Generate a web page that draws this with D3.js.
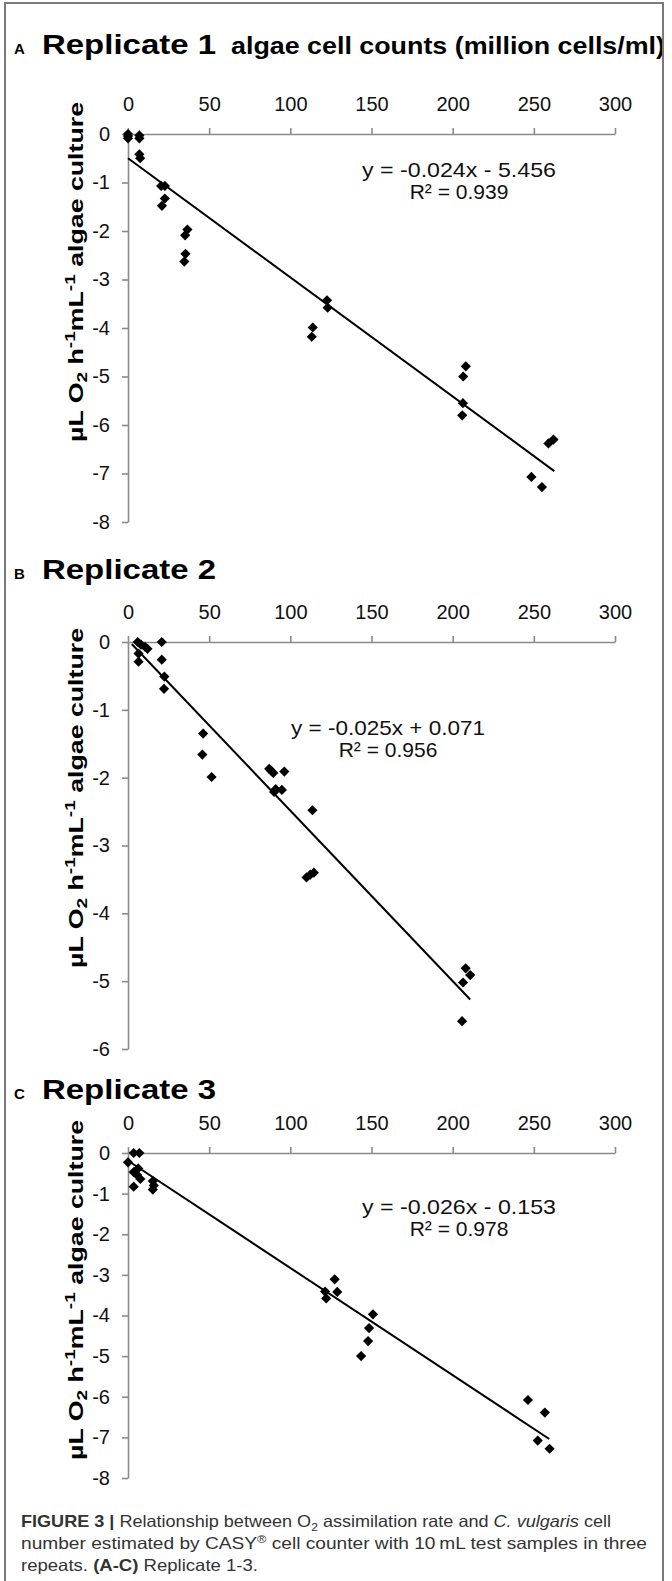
<!DOCTYPE html>
<html lang="en">
<head>
	<meta charset="UTF-8">
	<title>O2 assimilation vs cell counts</title>
	<script src="https://cdn.jsdelivr.net/npm/d3@7"></script>
	<style>
		body { margin: 0; background: #fff; }
		text { font-family: "Liberation Sans", Arial, sans-serif; }
	</style>
</head>
<body>
	<script>

		// values
		var xTicks = [0, 50, 100, 150, 200, 250, 300];
		var yTicksA = [0, -1, -2, -3, -4, -5, -6, -7, -8];
		var yTicksB = [0, -1, -2, -3, -4, -5, -6];
		var yTicksC = [0, -1, -2, -3, -4, -5, -6, -7, -8];

		var xA = [0, 0, 0, 7, 7, 7, 7.5, 20.4, 22.7, 22.7, 20.9, 36.6, 35.2, 35.4, 34.7, 122.6, 123, 113.8, 113.2, 208.1, 206.5, 206.3, 205.9, 248.5, 255, 259, 262.1];
		var yA = [0, -0.04, -0.09, -0.03, -0.09, -0.42, -0.5, -1.07, -1.07, -1.33, -1.48, -1.97, -2.09, -2.47, -2.63, -3.43, -3.58, -3.99, -4.18, -4.79, -5.0, -5.55, -5.8, -7.07, -7.28, -6.38, -6.3];

		var xB = [6, 8, 10.5, 12, 6.5, 6.5, 20.8, 20.8, 22.4, 22.2, 46.3, 45.8, 51.5, 87, 88.3, 89.5, 96.3, 91, 94.8, 90, 113.6, 110, 112.3, 114.5, 208, 210.8, 206.4, 205.8];
		var yB = [0, -0.04, -0.07, -0.1, -0.17, -0.29, 0, -0.26, -0.51, -0.69, -1.35, -1.66, -1.99, -1.87, -1.9, -1.93, -1.91, -2.17, -2.18, -2.21, -2.48, -3.47, -3.43, -3.4, -4.81, -4.91, -5.02, -5.59];

		var xC = [0, 3.5, 7, 3.5, 6.3, 5.6, 7.6, 3.5, 15.3, 15.9, 15.3, 121.4, 122.1, 127.3, 128.9, 150.9, 148.5, 147.9, 143.6, 246.4, 256.8, 252.4, 259.7];
		var yC = [-0.23, 0, 0, -0.47, -0.38, -0.54, -0.64, -0.83, -0.69, -0.8, -0.9, -3.41, -3.58, -3.11, -3.42, -3.97, -4.31, -4.63, -5.0, -6.08, -6.39, -7.08, -7.28];

		// trend lines as drawn (start and end)
		var lineAx = [0, 262.6], lineAy = [-0.5, -6.95];
		var lineBx = [2.3, 210.8], lineBy = [-0.03, -5.27];
		var lineCx = [0, 259.5], lineCy = [-0.19, -7.04];

		var letters = ["A", "B", "C"];
		var titles = ["Replicate 1", "Replicate 2", "Replicate 3"];
		var xAxisTitle = "algae cell counts (million cells/ml)";
		var equations = ["y = -0.024x - 5.456", "y = -0.025x + 0.071", "y = -0.026x - 0.153"];
		var r2Labels = ["R² = 0.939", "R² = 0.956", "R² = 0.978"];

		var W = 672, H = 1581;
		var svg = d3.select("body").append("svg").attr("width", W).attr("height", H);

		var axisColor = "#8a8a8a";

		var panels = [
			{ xs: xA, ys: yA, lx: lineAx, ly: lineAy, yTicks: yTicksA, top: 134, h: 388, titleY: 54, labelY: 272, eqX: 459, eqY: 177 },
			{ xs: xB, ys: yB, lx: lineBx, ly: lineBy, yTicks: yTicksB, top: 642, h: 407, titleY: 579, labelY: 798, eqX: 388, eqY: 735 },
			{ xs: xC, ys: yC, lx: lineCx, ly: lineCy, yTicks: yTicksC, top: 1153, h: 325, titleY: 1099, labelY: 1290, eqX: 459, eqY: 1214 }
		];

		var x = d3.scaleLinear().domain([0, 300]).range([128, 615]);

		panels.forEach(function (p, i) {
			var y = d3.scaleLinear().domain([d3.min(p.yTicks), 0]).range([p.top + p.h, p.top]);
			var g = svg.append("g");

			// title
			g.append("text").attr("x", 14).attr("y", p.titleY).attr("font-size", 15).attr("font-weight", "bold").text(letters[i]);
			g.append("text").attr("x", 42).attr("y", p.titleY).attr("font-size", 28).attr("font-weight", "bold")
				.attr("textLength", 174).attr("lengthAdjust", "spacingAndGlyphs").text(titles[i]);
			if (i == 0) {
				g.append("text").attr("x", 231).attr("y", p.titleY).attr("font-size", 24).attr("font-weight", "bold")
					.attr("textLength", 434).attr("lengthAdjust", "spacingAndGlyphs").text(xAxisTitle);
			}

			// axes
			var xAxis = d3.axisTop(x).tickValues(xTicks).tickSize(6).tickSizeOuter(0).tickPadding(17);
			var gx = g.append("g").attr("transform", "translate(0," + p.top + ")").call(xAxis);
			var yAxis = d3.axisLeft(y).tickValues(p.yTicks).tickSize(6).tickSizeOuter(0).tickPadding(12)
				.tickFormat(function (d) { return String(d); });
			var gy = g.append("g").attr("transform", "translate(" + x(0) + ",0)").call(yAxis);

			[gx, gy].forEach(function (a) {
				a.select(".domain").attr("stroke", axisColor).attr("stroke-width", 1.6);
				a.selectAll(".tick line").attr("stroke", axisColor).attr("stroke-width", 1.6);
				a.selectAll(".tick text").attr("font-size", 20).attr("fill", "#111")
					.style("font-family", '"Liberation Sans", Arial, sans-serif');
			});

			// y label
			var yl = g.append("text").attr("font-size", 21).attr("font-weight", "bold").attr("text-anchor", "middle")
				.attr("textLength", 340).attr("lengthAdjust", "spacingAndGlyphs")
				.attr("transform", "translate(83," + p.labelY + ") rotate(-90)");
			yl.append("tspan").text("µL O");
			yl.append("tspan").attr("font-size", 15).attr("dy", 4).text("2");
			yl.append("tspan").attr("dy", -4).text(" h");
			yl.append("tspan").attr("font-size", 15).attr("dy", -8).text("-1");
			yl.append("tspan").attr("dy", 8).text("mL");
			yl.append("tspan").attr("font-size", 15).attr("dy", -8).text("-1");
			yl.append("tspan").attr("dy", 8).text(" algae culture");

			// trend line
			g.append("line")
				.attr("x1", x(p.lx[0])).attr("y1", y(p.ly[0]))
				.attr("x2", x(p.lx[1])).attr("y2", y(p.ly[1]))
				.attr("stroke", "#000").attr("stroke-width", 2);

			// points
			var marker = d3.symbol().type(d3.symbolSquare).size(52);
			g.selectAll(".pt").data(p.xs).enter().append("path")
				.attr("d", marker)
				.attr("transform", function (d, k) { return "translate(" + x(d) + "," + y(p.ys[k]) + ") rotate(45)"; })
				.attr("fill", "#000");

			// equation
			g.append("text").attr("x", p.eqX).attr("y", p.eqY).attr("text-anchor", "middle").attr("font-size", 21)
				.attr("fill", "#111").attr("textLength", 194).attr("lengthAdjust", "spacingAndGlyphs").text(equations[i]);
			g.append("text").attr("x", p.eqX).attr("y", p.eqY + 22).attr("text-anchor", "middle").attr("font-size", 21)
				.attr("fill", "#111").text(r2Labels[i]);
		});

		// frame round the whole figure
		svg.append("rect").attr("x", 5).attr("y", 3).attr("width", 658).attr("height", 1600)
			.attr("fill", "none").attr("stroke", "#7a7a7a").attr("stroke-width", 2);

		// caption
		var cap = svg.append("g").attr("fill", "#333").style("font-family", '"Roboto", "Liberation Sans", sans-serif');
		var c1 = cap.append("text").attr("x", 21).attr("y", 1527).attr("font-size", 16.5)
			.attr("textLength", 590).attr("lengthAdjust", "spacingAndGlyphs");
		c1.append("tspan").attr("font-weight", "bold").text("FIGURE 3 |");
		c1.append("tspan").text(" Relationship between O");
		c1.append("tspan").attr("font-size", 11).attr("dy", 4).text("2");
		c1.append("tspan").attr("dy", -4).text(" assimilation rate and ");
		c1.append("tspan").attr("font-style", "italic").text("C. vulgaris");
		c1.append("tspan").text(" cell");

		var c2 = cap.append("text").attr("x", 21).attr("y", 1549).attr("font-size", 16.5)
			.attr("textLength", 626).attr("lengthAdjust", "spacingAndGlyphs");
		c2.append("tspan").text("number estimated by CASY");
		c2.append("tspan").attr("font-size", 11).attr("dy", -6).text("®");
		c2.append("tspan").attr("dy", 6).text(" cell counter with 10\u2009mL test samples in three");

		var c3 = cap.append("text").attr("x", 21).attr("y", 1571).attr("font-size", 16.5)
			.attr("textLength", 237).attr("lengthAdjust", "spacingAndGlyphs");
		c3.append("tspan").text("repeats. ");
		c3.append("tspan").attr("font-weight", "bold").text("(A-C)");
		c3.append("tspan").text(" Replicate 1-3.");

	</script>
</body>
</html>
